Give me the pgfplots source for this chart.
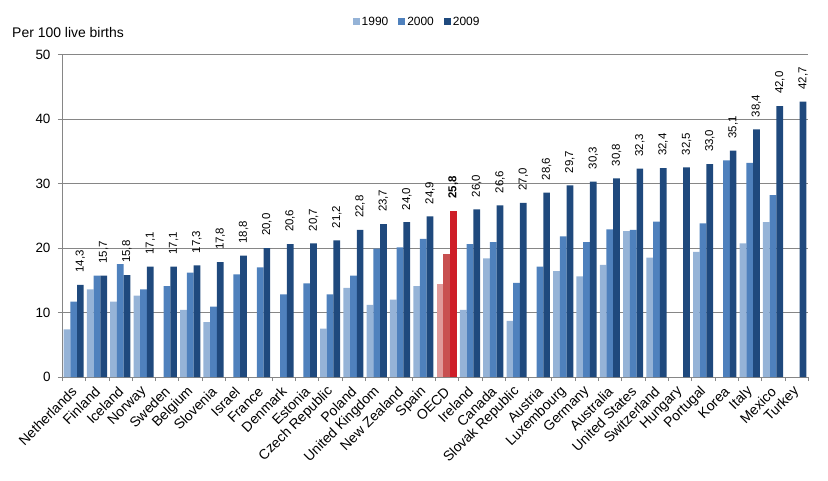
\documentclass[border=0pt]{standalone}
\usepackage{fontspec}
\setmainfont{Liberation Sans}
\usepackage{pgfplots}
\pgfplotsset{compat=1.18}
\usepackage{pgfplotstable}
\definecolor{c90}{RGB}{149,179,215}
\definecolor{c00}{RGB}{79,129,189}
\definecolor{c09}{RGB}{31,73,125}
\definecolor{r90}{RGB}{224,154,154}
\definecolor{r00}{RGB}{200,80,80}
\definecolor{r09}{RGB}{206,30,40}
\definecolor{gridc}{RGB}{134,134,134}
\pgfplotstableread{
x a b c
0 7.4 11.7 14.3
1 13.6 15.7 15.7
2 11.7 17.5 15.8
3 12.6 13.6 17.1
4 nan 14.1 17.1
5 10.4 16.2 17.3
6 8.5 10.9 17.8
7 nan 15.9 18.8
8 nan 17.0 20.0
9 nan 12.8 20.6
10 nan 14.5 20.7
11 7.5 12.8 21.2
12 13.8 15.7 22.8
13 11.2 19.9 23.7
14 12.0 20.1 24.0
15 14.1 21.4 24.9
17 10.4 20.6 26.0
18 18.4 20.9 26.6
19 8.7 14.6 27.0
20 nan 17.1 28.6
21 16.4 21.8 29.7
22 15.6 20.9 30.3
23 17.4 22.9 30.8
24 22.6 22.8 32.3
25 18.5 24.1 32.4
26 nan nan 32.5
27 19.4 23.8 33.0
28 nan 33.6 35.1
29 20.7 33.2 38.4
30 24.0 28.2 42.0
31 nan nan 42.7
}\main
\pgfplotstableread{
x a b c
16 14.4 19.1 25.8
}\oecd
\begin{document}
\begin{tikzpicture}
\begin{axis}[
  scale only axis, width=746bp, height=322.5bp,
  xmin=-0.5, xmax=31.5, ymin=0, ymax=50,
  ybar, bar width=6.7bp,
  legend image code/.code={\fill[#1] (0bp,-3.5bp) rectangle (7bp,3.5bp);},
  axis x line*=bottom, axis y line*=left,
  axis line style={gridc},
  ymajorgrids, grid style={gridc, line width=0.7bp},
  ytick={0,10,...,50},
  xtick={0,...,31},
  xticklabels={Netherlands,Finland,Iceland,Norway,Sweden,Belgium,Slovenia,Israel,France,Denmark,Estonia,Czech Republic,Poland,United Kingdom,New Zealand,Spain,OECD,Ireland,Canada,Slovak Republic,Austria,Luxembourg,Germany,Australia,United States,Switzerland,Hungary,Portugal,Korea,Italy,Mexico,Turkey},
  minor xtick={-0.5,0.5,...,31.5},
  tick align=outside,
  major tick length=4bp, minor tick length=4bp,
  tick style={gridc},
  major x tick style={draw=none},
  /pgf/number format/assume math mode=true,
  ticklabel style={font=\fontsize{13.5}{16}\selectfont},
  yticklabel style={xshift=-4bp},
  xticklabel style={font=\fontsize{14}{16}\selectfont, xshift=3bp, yshift=-6bp, rotate=45, anchor=east},
  legend style={draw=none, fill=none, legend columns=3,
    at={(axis description cs:0.476,1)}, anchor=center, yshift=32.5bp,
    font=\fontsize{12}{14}\selectfont,
    /tikz/every even column/.append style={column sep=8bp}},
  nodes near coords style={font=\fontsize{11.5}{13}\selectfont, rotate=90, anchor=west, inner xsep=12bp, inner ysep=0pt,
    /pgf/number format/fixed, /pgf/number format/fixed zerofill, /pgf/number format/precision=1, /pgf/number format/use comma},
]
\addplot[fill=c90, draw=none, bar shift=-6.7bp] table[x=x,y=a]{\main};
\addplot[fill=c00, draw=none, bar shift=0bp] table[x=x,y=b]{\main};
\addplot[fill=c09, draw=none, bar shift=6.7bp, nodes near coords] table[x=x,y=c]{\main};
\addplot[fill=r90, draw=none, bar shift=-6.7bp, forget plot] table[x=x,y=a]{\oecd};
\addplot[fill=r00, draw=none, bar shift=0bp, forget plot] table[x=x,y=b]{\oecd};
\addplot[fill=r09, draw=none, bar shift=6.7bp, forget plot, nodes near coords, nodes near coords style={font=\fontsize{11.5}{13}\selectfont\bfseries}] table[x=x,y=c]{\oecd};
\legend{1990,2000,2009}
\end{axis}
\node[anchor=west, inner sep=0pt, font=\fontsize{14}{16}\selectfont] at ([xshift=-50bp, yshift=21.5bp]current axis.north west) {Per 100 live births};
\pgfresetboundingbox
\path (current axis.south west) +(-62bp,-104bp) (current axis.north east) +(20bp,54.5bp);
\end{tikzpicture}
\end{document}
